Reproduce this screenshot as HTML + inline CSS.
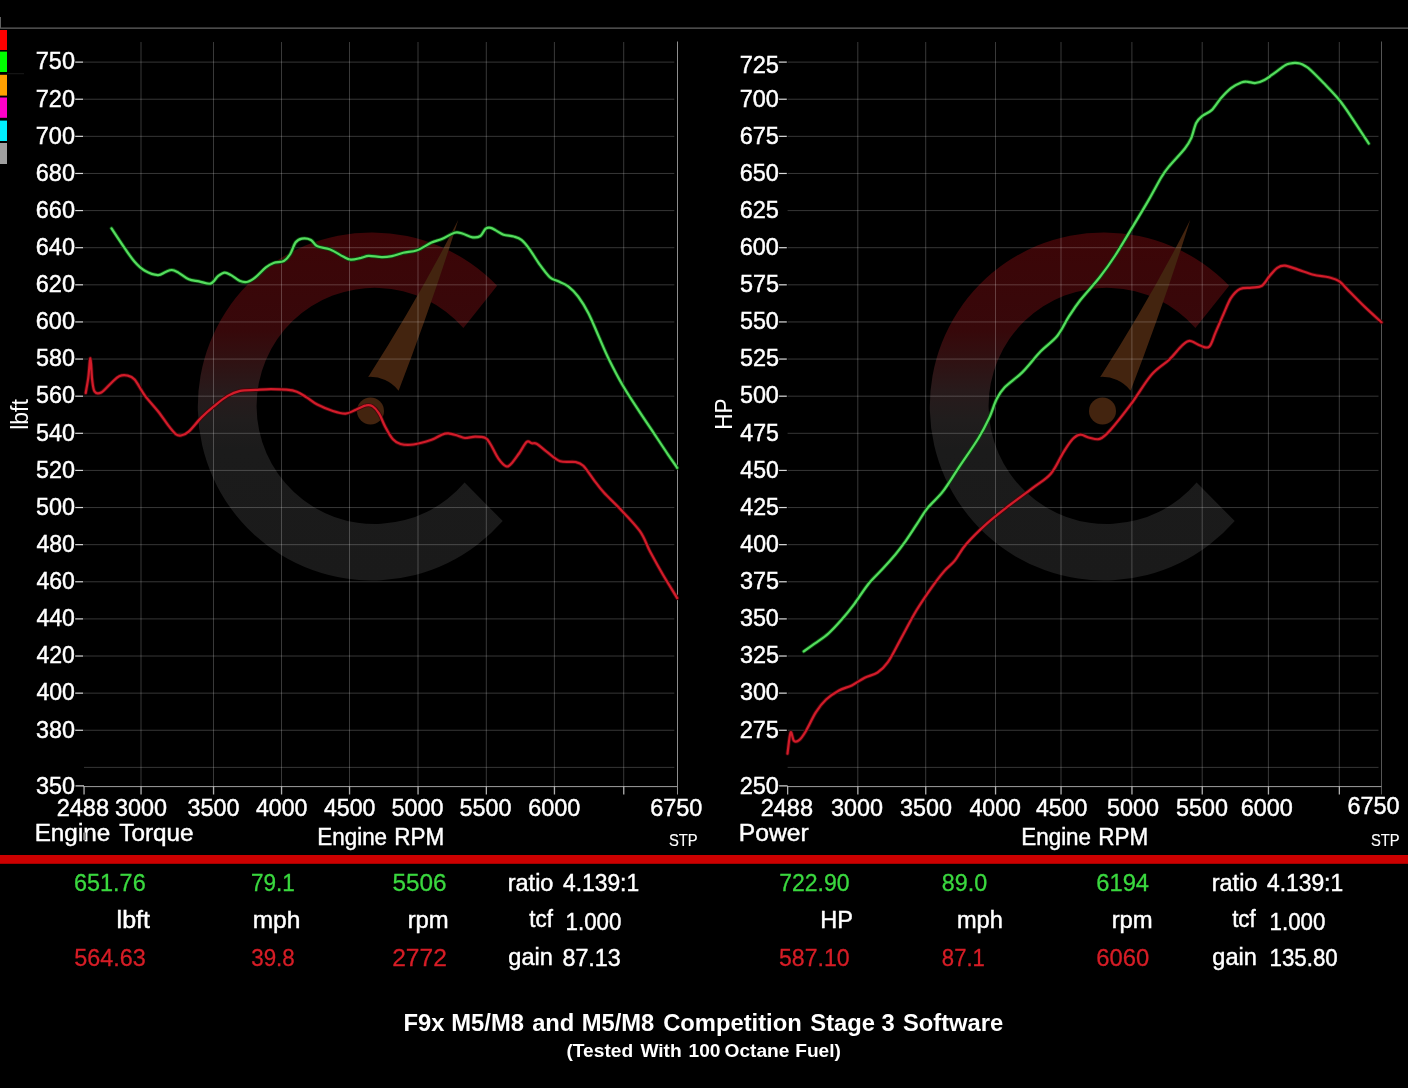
<!DOCTYPE html>
<html><head><meta charset="utf-8"><title>Dyno</title>
<style>
html,body{margin:0;padding:0;background:#000;}
body{width:1408px;height:1088px;overflow:hidden;}
svg{display:block;will-change:transform;font-family:"Liberation Sans",sans-serif;}
</style></head><body>
<svg width="1408" height="1088" viewBox="0 0 1408 1088">
<rect x="0" y="0" width="1408" height="1088" fill="#000"/>
<rect x="0" y="27.6" width="1408" height="1" fill="#7c7c7c"/>
<rect x="0" y="17" width="1" height="11" fill="#606060"/>
<rect x="0" y="30" width="7" height="20.0" fill="#ff0000"/>
<rect x="0" y="51.6" width="7" height="20.4" fill="#00ff00"/>
<rect x="0" y="74.8" width="7" height="20.8" fill="#ffa000"/>
<rect x="0" y="97.5" width="7" height="20.3" fill="#ff00c8"/>
<rect x="0" y="120.6" width="7" height="20.4" fill="#00f0ff"/>
<rect x="0" y="143" width="7" height="21.0" fill="#a0a0a0"/>
<rect x="7" y="73.2" width="17" height="1" fill="#1a1a1a"/>
<defs><linearGradient id="wg1" gradientUnits="userSpaceOnUse" x1="0" y1="234.0" x2="0" y2="581.0"><stop offset="0.000" stop-color="#3c0507"/><stop offset="0.277" stop-color="#37080a"/><stop offset="0.363" stop-color="#301112"/><stop offset="0.450" stop-color="#281a1b"/><stop offset="0.536" stop-color="#201d1d"/><stop offset="0.622" stop-color="#1b1b1b"/><stop offset="1.000" stop-color="#1a1a1a"/></linearGradient></defs>
<path d="M497.1,285.7 A174.0,174.0 0 1 0 502.7,521.1 L464.6,482.5 A118.1,118.1 0 1 1 463.4,328.0 Z" fill="url(#wg1)"/>
<path d="M458.3,219.8 Q418.6,298.3 368.2,376.9 A36,36 0 0 1 398.6,390.7 Q431.6,305.2 458.3,219.8 Z" fill="#43240f"/>
<circle cx="370.5" cy="411.0" r="13.5" fill="#43240f"/>
<defs><linearGradient id="wg2" gradientUnits="userSpaceOnUse" x1="0" y1="234.0" x2="0" y2="581.0"><stop offset="0.000" stop-color="#3c0507"/><stop offset="0.277" stop-color="#37080a"/><stop offset="0.363" stop-color="#301112"/><stop offset="0.450" stop-color="#281a1b"/><stop offset="0.536" stop-color="#201d1d"/><stop offset="0.622" stop-color="#1b1b1b"/><stop offset="1.000" stop-color="#1a1a1a"/></linearGradient></defs>
<path d="M1229.1,285.7 A174.0,174.0 0 1 0 1234.7,521.1 L1196.6,482.5 A118.1,118.1 0 1 1 1195.4,328.0 Z" fill="url(#wg2)"/>
<path d="M1190.3,219.8 Q1150.6,298.3 1100.2,376.9 A36,36 0 0 1 1130.6,390.7 Q1163.6,305.2 1190.3,219.8 Z" fill="#43240f"/>
<circle cx="1102.5" cy="411.0" r="13.5" fill="#43240f"/>
<rect x="84" y="61.60" width="590.3" height="1" fill="rgba(255,255,255,0.21)"/>
<rect x="84" y="98.72" width="590.3" height="1" fill="rgba(255,255,255,0.21)"/>
<rect x="84" y="135.84" width="590.3" height="1" fill="rgba(255,255,255,0.21)"/>
<rect x="84" y="172.96" width="590.3" height="1" fill="rgba(255,255,255,0.21)"/>
<rect x="84" y="210.08" width="590.3" height="1" fill="rgba(255,255,255,0.21)"/>
<rect x="84" y="247.20" width="590.3" height="1" fill="rgba(255,255,255,0.21)"/>
<rect x="84" y="284.32" width="590.3" height="1" fill="rgba(255,255,255,0.21)"/>
<rect x="84" y="321.44" width="590.3" height="1" fill="rgba(255,255,255,0.21)"/>
<rect x="84" y="358.56" width="590.3" height="1" fill="rgba(255,255,255,0.21)"/>
<rect x="84" y="395.68" width="590.3" height="1" fill="rgba(255,255,255,0.21)"/>
<rect x="84" y="432.80" width="590.3" height="1" fill="rgba(255,255,255,0.21)"/>
<rect x="84" y="469.92" width="590.3" height="1" fill="rgba(255,255,255,0.21)"/>
<rect x="84" y="507.04" width="590.3" height="1" fill="rgba(255,255,255,0.21)"/>
<rect x="84" y="544.16" width="590.3" height="1" fill="rgba(255,255,255,0.21)"/>
<rect x="84" y="581.28" width="590.3" height="1" fill="rgba(255,255,255,0.21)"/>
<rect x="84" y="618.40" width="590.3" height="1" fill="rgba(255,255,255,0.21)"/>
<rect x="84" y="655.52" width="590.3" height="1" fill="rgba(255,255,255,0.21)"/>
<rect x="84" y="692.64" width="590.3" height="1" fill="rgba(255,255,255,0.21)"/>
<rect x="84" y="729.76" width="590.3" height="1" fill="rgba(255,255,255,0.21)"/>
<rect x="84" y="766.88" width="590.3" height="1" fill="rgba(255,255,255,0.21)"/>
<rect x="140.50" y="42" width="1" height="744" fill="rgba(255,255,255,0.225)"/>
<rect x="213.00" y="42" width="1" height="744" fill="rgba(255,255,255,0.225)"/>
<rect x="281.00" y="42" width="1" height="744" fill="rgba(255,255,255,0.225)"/>
<rect x="349.00" y="42" width="1" height="744" fill="rgba(255,255,255,0.225)"/>
<rect x="417.50" y="42" width="1" height="744" fill="rgba(255,255,255,0.225)"/>
<rect x="485.80" y="42" width="1" height="744" fill="rgba(255,255,255,0.225)"/>
<rect x="553.90" y="42" width="1" height="744" fill="rgba(255,255,255,0.225)"/>
<rect x="623.20" y="42" width="1" height="744" fill="rgba(255,255,255,0.225)"/>
<rect x="677" y="41.5" width="1" height="753" fill="#8e8e8e"/>
<rect x="84" y="786.0" width="593.6" height="1.1" fill="#909090"/>
<rect x="83.40" y="786" width="1.3" height="8.5" fill="#b0b0b0"/>
<rect x="140.40" y="786" width="1.3" height="8.5" fill="#b0b0b0"/>
<rect x="212.90" y="786" width="1.3" height="8.5" fill="#b0b0b0"/>
<rect x="280.90" y="786" width="1.3" height="8.5" fill="#b0b0b0"/>
<rect x="348.90" y="786" width="1.3" height="8.5" fill="#b0b0b0"/>
<rect x="417.40" y="786" width="1.3" height="8.5" fill="#b0b0b0"/>
<rect x="485.70" y="786" width="1.3" height="8.5" fill="#b0b0b0"/>
<rect x="553.80" y="786" width="1.3" height="8.5" fill="#b0b0b0"/>
<rect x="623.10" y="786" width="1.3" height="8.5" fill="#b0b0b0"/>
<rect x="75.2" y="61.50" width="8" height="1.2" fill="#dadada"/>
<text transform="matrix(0.9922,0,0,1,35.75,68.70)" font-size="23.7" fill="#fff" stroke="#fff" stroke-width="0.45">750</text>
<rect x="75.2" y="98.62" width="8" height="1.2" fill="#dadada"/>
<text transform="matrix(0.9922,0,0,1,35.75,106.52)" font-size="23.7" fill="#fff" stroke="#fff" stroke-width="0.45">720</text>
<rect x="75.2" y="135.74" width="8" height="1.2" fill="#dadada"/>
<text transform="matrix(0.9922,0,0,1,35.75,143.64)" font-size="23.7" fill="#fff" stroke="#fff" stroke-width="0.45">700</text>
<rect x="75.2" y="172.86" width="8" height="1.2" fill="#dadada"/>
<text transform="matrix(0.9922,0,0,1,35.75,180.76)" font-size="23.7" fill="#fff" stroke="#fff" stroke-width="0.45">680</text>
<rect x="75.2" y="209.98" width="8" height="1.2" fill="#dadada"/>
<text transform="matrix(0.9922,0,0,1,35.75,217.88)" font-size="23.7" fill="#fff" stroke="#fff" stroke-width="0.45">660</text>
<rect x="75.2" y="247.10" width="8" height="1.2" fill="#dadada"/>
<text transform="matrix(0.9922,0,0,1,35.75,255.00)" font-size="23.7" fill="#fff" stroke="#fff" stroke-width="0.45">640</text>
<rect x="75.2" y="284.22" width="8" height="1.2" fill="#dadada"/>
<text transform="matrix(0.9922,0,0,1,35.75,292.12)" font-size="23.7" fill="#fff" stroke="#fff" stroke-width="0.45">620</text>
<rect x="75.2" y="321.34" width="8" height="1.2" fill="#dadada"/>
<text transform="matrix(0.9922,0,0,1,35.75,329.24)" font-size="23.7" fill="#fff" stroke="#fff" stroke-width="0.45">600</text>
<rect x="75.2" y="358.46" width="8" height="1.2" fill="#dadada"/>
<text transform="matrix(0.9860,0,0,1,35.99,366.36)" font-size="23.7" fill="#fff" stroke="#fff" stroke-width="0.45">580</text>
<rect x="75.2" y="395.58" width="8" height="1.2" fill="#dadada"/>
<text transform="matrix(0.9860,0,0,1,35.99,403.48)" font-size="23.7" fill="#fff" stroke="#fff" stroke-width="0.45">560</text>
<rect x="75.2" y="432.70" width="8" height="1.2" fill="#dadada"/>
<text transform="matrix(0.9860,0,0,1,35.99,440.60)" font-size="23.7" fill="#fff" stroke="#fff" stroke-width="0.45">540</text>
<rect x="75.2" y="469.82" width="8" height="1.2" fill="#dadada"/>
<text transform="matrix(0.9860,0,0,1,35.99,477.72)" font-size="23.7" fill="#fff" stroke="#fff" stroke-width="0.45">520</text>
<rect x="75.2" y="506.94" width="8" height="1.2" fill="#dadada"/>
<text transform="matrix(0.9860,0,0,1,35.99,514.84)" font-size="23.7" fill="#fff" stroke="#fff" stroke-width="0.45">500</text>
<rect x="75.2" y="544.06" width="8" height="1.2" fill="#dadada"/>
<text transform="matrix(0.9739,0,0,1,36.46,551.96)" font-size="23.7" fill="#fff" stroke="#fff" stroke-width="0.45">480</text>
<rect x="75.2" y="581.18" width="8" height="1.2" fill="#dadada"/>
<text transform="matrix(0.9739,0,0,1,36.46,589.08)" font-size="23.7" fill="#fff" stroke="#fff" stroke-width="0.45">460</text>
<rect x="75.2" y="618.30" width="8" height="1.2" fill="#dadada"/>
<text transform="matrix(0.9739,0,0,1,36.46,626.20)" font-size="23.7" fill="#fff" stroke="#fff" stroke-width="0.45">440</text>
<rect x="75.2" y="655.42" width="8" height="1.2" fill="#dadada"/>
<text transform="matrix(0.9739,0,0,1,36.46,663.32)" font-size="23.7" fill="#fff" stroke="#fff" stroke-width="0.45">420</text>
<rect x="75.2" y="692.54" width="8" height="1.2" fill="#dadada"/>
<text transform="matrix(0.9739,0,0,1,36.46,700.44)" font-size="23.7" fill="#fff" stroke="#fff" stroke-width="0.45">400</text>
<rect x="75.2" y="729.66" width="8" height="1.2" fill="#dadada"/>
<text transform="matrix(0.9860,0,0,1,35.99,737.56)" font-size="23.7" fill="#fff" stroke="#fff" stroke-width="0.45">380</text>
<text transform="matrix(0.9860,0,0,1,35.99,793.50)" font-size="23.7" fill="#fff" stroke="#fff" stroke-width="0.45">350</text>
<rect x="75.5" y="785.3" width="8.5" height="1.2" fill="#dadada"/>
<rect x="787.6" y="61.60" width="590.9" height="1" fill="rgba(255,255,255,0.21)"/>
<rect x="787.6" y="98.72" width="590.9" height="1" fill="rgba(255,255,255,0.21)"/>
<rect x="787.6" y="135.84" width="590.9" height="1" fill="rgba(255,255,255,0.21)"/>
<rect x="787.6" y="172.96" width="590.9" height="1" fill="rgba(255,255,255,0.21)"/>
<rect x="787.6" y="210.08" width="590.9" height="1" fill="rgba(255,255,255,0.21)"/>
<rect x="787.6" y="247.20" width="590.9" height="1" fill="rgba(255,255,255,0.21)"/>
<rect x="787.6" y="284.32" width="590.9" height="1" fill="rgba(255,255,255,0.21)"/>
<rect x="787.6" y="321.44" width="590.9" height="1" fill="rgba(255,255,255,0.21)"/>
<rect x="787.6" y="358.56" width="590.9" height="1" fill="rgba(255,255,255,0.21)"/>
<rect x="787.6" y="395.68" width="590.9" height="1" fill="rgba(255,255,255,0.21)"/>
<rect x="787.6" y="432.80" width="590.9" height="1" fill="rgba(255,255,255,0.21)"/>
<rect x="787.6" y="469.92" width="590.9" height="1" fill="rgba(255,255,255,0.21)"/>
<rect x="787.6" y="507.04" width="590.9" height="1" fill="rgba(255,255,255,0.21)"/>
<rect x="787.6" y="544.16" width="590.9" height="1" fill="rgba(255,255,255,0.21)"/>
<rect x="787.6" y="581.28" width="590.9" height="1" fill="rgba(255,255,255,0.21)"/>
<rect x="787.6" y="618.40" width="590.9" height="1" fill="rgba(255,255,255,0.21)"/>
<rect x="787.6" y="655.52" width="590.9" height="1" fill="rgba(255,255,255,0.21)"/>
<rect x="787.6" y="692.64" width="590.9" height="1" fill="rgba(255,255,255,0.21)"/>
<rect x="787.6" y="729.76" width="590.9" height="1" fill="rgba(255,255,255,0.21)"/>
<rect x="787.6" y="766.88" width="590.9" height="1" fill="rgba(255,255,255,0.21)"/>
<rect x="857.30" y="42" width="1" height="744" fill="rgba(255,255,255,0.225)"/>
<rect x="925.20" y="42" width="1" height="744" fill="rgba(255,255,255,0.225)"/>
<rect x="995.00" y="42" width="1" height="744" fill="rgba(255,255,255,0.225)"/>
<rect x="1060.50" y="42" width="1" height="744" fill="rgba(255,255,255,0.225)"/>
<rect x="1131.40" y="42" width="1" height="744" fill="rgba(255,255,255,0.225)"/>
<rect x="1201.70" y="42" width="1" height="744" fill="rgba(255,255,255,0.225)"/>
<rect x="1267.90" y="42" width="1" height="744" fill="rgba(255,255,255,0.225)"/>
<rect x="1338.80" y="42" width="1" height="744" fill="rgba(255,255,255,0.225)"/>
<rect x="1381" y="41.5" width="1" height="753" fill="#555555"/>
<rect x="787.6" y="786.0" width="593.9" height="1.1" fill="#909090"/>
<rect x="787.00" y="786" width="1.3" height="8.5" fill="#b0b0b0"/>
<rect x="857.20" y="786" width="1.3" height="8.5" fill="#b0b0b0"/>
<rect x="925.10" y="786" width="1.3" height="8.5" fill="#b0b0b0"/>
<rect x="994.90" y="786" width="1.3" height="8.5" fill="#b0b0b0"/>
<rect x="1060.40" y="786" width="1.3" height="8.5" fill="#b0b0b0"/>
<rect x="1131.30" y="786" width="1.3" height="8.5" fill="#b0b0b0"/>
<rect x="1201.60" y="786" width="1.3" height="8.5" fill="#b0b0b0"/>
<rect x="1267.80" y="786" width="1.3" height="8.5" fill="#b0b0b0"/>
<rect x="1338.70" y="786" width="1.3" height="8.5" fill="#b0b0b0"/>
<rect x="778.8000000000001" y="61.50" width="8" height="1.2" fill="#dadada"/>
<text transform="matrix(0.9953,0,0,1,739.64,72.70)" font-size="23.7" fill="#fff" stroke="#fff" stroke-width="0.45">725</text>
<rect x="778.8000000000001" y="98.62" width="8" height="1.2" fill="#dadada"/>
<text transform="matrix(0.9922,0,0,1,739.65,106.52)" font-size="23.7" fill="#fff" stroke="#fff" stroke-width="0.45">700</text>
<rect x="778.8000000000001" y="135.74" width="8" height="1.2" fill="#dadada"/>
<text transform="matrix(0.9953,0,0,1,739.64,143.64)" font-size="23.7" fill="#fff" stroke="#fff" stroke-width="0.45">675</text>
<rect x="778.8000000000001" y="172.86" width="8" height="1.2" fill="#dadada"/>
<text transform="matrix(0.9922,0,0,1,739.65,180.76)" font-size="23.7" fill="#fff" stroke="#fff" stroke-width="0.45">650</text>
<text transform="matrix(0.9953,0,0,1,739.64,217.88)" font-size="23.7" fill="#fff" stroke="#fff" stroke-width="0.45">625</text>
<rect x="778.8000000000001" y="247.10" width="8" height="1.2" fill="#dadada"/>
<text transform="matrix(0.9922,0,0,1,739.65,255.00)" font-size="23.7" fill="#fff" stroke="#fff" stroke-width="0.45">600</text>
<rect x="778.8000000000001" y="284.22" width="8" height="1.2" fill="#dadada"/>
<text transform="matrix(0.9891,0,0,1,739.88,292.12)" font-size="23.7" fill="#fff" stroke="#fff" stroke-width="0.45">575</text>
<rect x="778.8000000000001" y="321.34" width="8" height="1.2" fill="#dadada"/>
<text transform="matrix(0.9860,0,0,1,739.89,329.24)" font-size="23.7" fill="#fff" stroke="#fff" stroke-width="0.45">550</text>
<rect x="778.8000000000001" y="358.46" width="8" height="1.2" fill="#dadada"/>
<text transform="matrix(0.9891,0,0,1,739.88,366.36)" font-size="23.7" fill="#fff" stroke="#fff" stroke-width="0.45">525</text>
<rect x="778.8000000000001" y="395.58" width="8" height="1.2" fill="#dadada"/>
<text transform="matrix(0.9860,0,0,1,739.89,403.48)" font-size="23.7" fill="#fff" stroke="#fff" stroke-width="0.45">500</text>
<text transform="matrix(0.9769,0,0,1,740.36,440.60)" font-size="23.7" fill="#fff" stroke="#fff" stroke-width="0.45">475</text>
<rect x="778.8000000000001" y="469.82" width="8" height="1.2" fill="#dadada"/>
<text transform="matrix(0.9739,0,0,1,740.36,477.72)" font-size="23.7" fill="#fff" stroke="#fff" stroke-width="0.45">450</text>
<rect x="778.8000000000001" y="506.94" width="8" height="1.2" fill="#dadada"/>
<text transform="matrix(0.9769,0,0,1,740.36,514.84)" font-size="23.7" fill="#fff" stroke="#fff" stroke-width="0.45">425</text>
<rect x="778.8000000000001" y="544.06" width="8" height="1.2" fill="#dadada"/>
<text transform="matrix(0.9739,0,0,1,740.36,551.96)" font-size="23.7" fill="#fff" stroke="#fff" stroke-width="0.45">400</text>
<rect x="778.8000000000001" y="581.18" width="8" height="1.2" fill="#dadada"/>
<text transform="matrix(0.9891,0,0,1,739.88,589.08)" font-size="23.7" fill="#fff" stroke="#fff" stroke-width="0.45">375</text>
<rect x="778.8000000000001" y="618.30" width="8" height="1.2" fill="#dadada"/>
<text transform="matrix(0.9860,0,0,1,739.89,626.20)" font-size="23.7" fill="#fff" stroke="#fff" stroke-width="0.45">350</text>
<rect x="778.8000000000001" y="655.42" width="8" height="1.2" fill="#dadada"/>
<text transform="matrix(0.9891,0,0,1,739.88,663.32)" font-size="23.7" fill="#fff" stroke="#fff" stroke-width="0.45">325</text>
<rect x="778.8000000000001" y="692.54" width="8" height="1.2" fill="#dadada"/>
<text transform="matrix(0.9860,0,0,1,739.89,700.44)" font-size="23.7" fill="#fff" stroke="#fff" stroke-width="0.45">300</text>
<rect x="778.8000000000001" y="729.66" width="8" height="1.2" fill="#dadada"/>
<text transform="matrix(0.9953,0,0,1,739.64,737.56)" font-size="23.7" fill="#fff" stroke="#fff" stroke-width="0.45">275</text>
<text transform="matrix(0.9922,0,0,1,739.65,793.50)" font-size="23.7" fill="#fff" stroke="#fff" stroke-width="0.45">250</text>
<rect x="779.1" y="785.3" width="8.5" height="1.2" fill="#dadada"/>
<text transform="matrix(0.9932,0,0,1,56.70,815.80)" font-size="23.7" fill="#fff" stroke="#fff" stroke-width="0.45">2488</text>
<text transform="matrix(0.9863,0,0,1,114.94,815.80)" font-size="23.7" fill="#fff" stroke="#fff" stroke-width="0.45">3000</text>
<text transform="matrix(0.9863,0,0,1,187.44,815.80)" font-size="23.7" fill="#fff" stroke="#fff" stroke-width="0.45">3500</text>
<text transform="matrix(0.9773,0,0,1,255.91,815.80)" font-size="23.7" fill="#fff" stroke="#fff" stroke-width="0.45">4000</text>
<text transform="matrix(0.9773,0,0,1,323.91,815.80)" font-size="23.7" fill="#fff" stroke="#fff" stroke-width="0.45">4500</text>
<text transform="matrix(0.9863,0,0,1,391.44,815.80)" font-size="23.7" fill="#fff" stroke="#fff" stroke-width="0.45">5000</text>
<text transform="matrix(0.9863,0,0,1,459.44,815.80)" font-size="23.7" fill="#fff" stroke="#fff" stroke-width="0.45">5500</text>
<text transform="matrix(0.9909,0,0,1,528.20,815.80)" font-size="23.7" fill="#fff" stroke="#fff" stroke-width="0.45">6000</text>
<text transform="matrix(0.9909,0,0,1,650.20,815.80)" font-size="23.7" fill="#fff" stroke="#fff" stroke-width="0.45">6750</text>
<text transform="matrix(0.9932,0,0,1,760.70,815.80)" font-size="23.7" fill="#fff" stroke="#fff" stroke-width="0.45">2488</text>
<text transform="matrix(0.9863,0,0,1,830.94,815.80)" font-size="23.7" fill="#fff" stroke="#fff" stroke-width="0.45">3000</text>
<text transform="matrix(0.9863,0,0,1,899.94,815.80)" font-size="23.7" fill="#fff" stroke="#fff" stroke-width="0.45">3500</text>
<text transform="matrix(0.9773,0,0,1,969.41,815.80)" font-size="23.7" fill="#fff" stroke="#fff" stroke-width="0.45">4000</text>
<text transform="matrix(0.9773,0,0,1,1035.91,815.80)" font-size="23.7" fill="#fff" stroke="#fff" stroke-width="0.45">4500</text>
<text transform="matrix(0.9863,0,0,1,1106.94,815.80)" font-size="23.7" fill="#fff" stroke="#fff" stroke-width="0.45">5000</text>
<text transform="matrix(0.9863,0,0,1,1175.94,815.80)" font-size="23.7" fill="#fff" stroke="#fff" stroke-width="0.45">5500</text>
<text transform="matrix(0.9909,0,0,1,1240.70,815.80)" font-size="23.7" fill="#fff" stroke="#fff" stroke-width="0.45">6000</text>
<text transform="matrix(0.9909,0,0,1,1347.45,814.20)" font-size="23.7" fill="#fff" stroke="#fff" stroke-width="0.45">6750</text>
<text transform="matrix(0.9925,0,0,1,0,840.70)" font-size="24.5" fill="#fff" stroke="#fff" stroke-width="0.45"><tspan x="34.92">Engine</tspan> <tspan x="120.17">Torque</tspan></text>
<text transform="matrix(0.9357,0,0,1,0,844.70)" font-size="24" fill="#fff" stroke="#fff" stroke-width="0.45"><tspan x="339.00">Engine</tspan> <tspan x="421.47">RPM</tspan></text>
<text transform="matrix(0.9244,0,0,1,668.90,846.00)" font-size="16" fill="#fff" stroke="#fff" stroke-width="0.15">STP</text>
<text transform="matrix(1.0066,0,0,1,738.75,840.50)" font-size="24.5" fill="#fff" stroke="#fff" stroke-width="0.45">Power</text>
<text transform="matrix(0.9357,0,0,1,0,844.70)" font-size="24" fill="#fff" stroke="#fff" stroke-width="0.45"><tspan x="1091.37">Engine</tspan> <tspan x="1173.84">RPM</tspan></text>
<text transform="matrix(0.9244,0,0,1,1370.90,846.00)" font-size="16" fill="#fff" stroke="#fff" stroke-width="0.15">STP</text>
<rect x="83.3" y="832.5" width="2.8" height="7.5" fill="#8a8a8a"/>
<text transform="translate(19.70,413.80) rotate(-90) translate(-16.00,8.58) scale(0.9590,1)" font-size="24" fill="#fff">lbft</text>
<text transform="translate(723.70,413.80) rotate(-90) translate(-15.95,8.28) scale(0.9396,1)" font-size="24" fill="#fff">HP</text>
<rect x="0" y="855" width="1408" height="8.8" fill="#cc0000"/>
<text transform="matrix(0.9779,0,0,1,73.97,890.80)" font-size="24" fill="#3ad83f" stroke="#3ad83f" stroke-width="0.3">651.76</text>
<text transform="matrix(0.9396,0,0,1,251.01,890.80)" font-size="24" fill="#3ad83f" stroke="#3ad83f" stroke-width="0.3">79.1</text>
<text transform="matrix(1.0139,0,0,1,392.43,890.80)" font-size="24" fill="#3ad83f" stroke="#3ad83f" stroke-width="0.3">5506</text>
<text transform="matrix(0.9807,0,0,1,507.69,890.80)" font-size="24" fill="#fff" stroke="#fff" stroke-width="0.45">ratio</text>
<text transform="matrix(0.9502,0,0,1,563.01,890.80)" font-size="24" fill="#fff" stroke="#fff" stroke-width="0.45">4.139:1</text>
<text transform="matrix(1.0427,0,0,1,116.61,927.50)" font-size="24" fill="#fff" stroke="#fff" stroke-width="0.45">lbft</text>
<text transform="matrix(1.0225,0,0,1,252.63,927.50)" font-size="24" fill="#fff" stroke="#fff" stroke-width="0.45">mph</text>
<text transform="matrix(0.9941,0,0,1,407.67,927.50)" font-size="24" fill="#fff" stroke="#fff" stroke-width="0.45">rpm</text>
<text transform="matrix(0.9303,0,0,1,529.37,926.80)" font-size="24" fill="#fff" stroke="#fff" stroke-width="0.45">tcf</text>
<text transform="matrix(0.9298,0,0,1,565.54,930.00)" font-size="24" fill="#fff" stroke="#fff" stroke-width="0.45">1.000</text>
<text transform="matrix(0.9747,0,0,1,74.21,966.20)" font-size="24" fill="#d61d26" stroke="#d61d26" stroke-width="0.3">564.63</text>
<text transform="matrix(0.9321,0,0,1,251.25,966.20)" font-size="24" fill="#d61d26" stroke="#d61d26" stroke-width="0.3">39.8</text>
<text transform="matrix(1.0234,0,0,1,392.18,966.20)" font-size="24" fill="#d61d26" stroke="#d61d26" stroke-width="0.3">2772</text>
<text transform="matrix(0.9818,0,0,1,508.28,965.30)" font-size="24" fill="#fff" stroke="#fff" stroke-width="0.45">gain</text>
<text transform="matrix(0.9716,0,0,1,562.42,966.20)" font-size="24" fill="#fff" stroke="#fff" stroke-width="0.45">87.13</text>
<text transform="matrix(0.9596,0,0,1,779.19,890.80)" font-size="24" fill="#3ad83f" stroke="#3ad83f" stroke-width="0.3">722.90</text>
<text transform="matrix(0.9720,0,0,1,941.80,890.80)" font-size="24" fill="#3ad83f" stroke="#3ad83f" stroke-width="0.3">89.0</text>
<text transform="matrix(0.9907,0,0,1,1096.21,890.80)" font-size="24" fill="#3ad83f" stroke="#3ad83f" stroke-width="0.3">6194</text>
<text transform="matrix(0.9807,0,0,1,1211.69,890.80)" font-size="24" fill="#fff" stroke="#fff" stroke-width="0.45">ratio</text>
<text transform="matrix(0.9502,0,0,1,1267.01,890.80)" font-size="24" fill="#fff" stroke="#fff" stroke-width="0.45">4.139:1</text>
<text transform="matrix(0.9814,0,0,1,820.34,927.50)" font-size="24" fill="#fff" stroke="#fff" stroke-width="0.45">HP</text>
<text transform="matrix(0.9839,0,0,1,956.89,927.50)" font-size="24" fill="#fff" stroke="#fff" stroke-width="0.45">mph</text>
<text transform="matrix(0.9941,0,0,1,1111.67,927.50)" font-size="24" fill="#fff" stroke="#fff" stroke-width="0.45">rpm</text>
<text transform="matrix(0.9303,0,0,1,1232.17,926.80)" font-size="24" fill="#fff" stroke="#fff" stroke-width="0.45">tcf</text>
<text transform="matrix(0.9298,0,0,1,1269.54,930.00)" font-size="24" fill="#fff" stroke="#fff" stroke-width="0.45">1.000</text>
<text transform="matrix(0.9619,0,0,1,779.02,966.20)" font-size="24" fill="#d61d26" stroke="#d61d26" stroke-width="0.3">587.10</text>
<text transform="matrix(0.9215,0,0,1,941.84,966.20)" font-size="24" fill="#d61d26" stroke="#d61d26" stroke-width="0.3">87.1</text>
<text transform="matrix(0.9930,0,0,1,1096.21,966.20)" font-size="24" fill="#d61d26" stroke="#d61d26" stroke-width="0.3">6060</text>
<text transform="matrix(0.9818,0,0,1,1212.28,965.30)" font-size="24" fill="#fff" stroke="#fff" stroke-width="0.45">gain</text>
<text transform="matrix(0.9298,0,0,1,1269.54,966.20)" font-size="24" fill="#fff" stroke="#fff" stroke-width="0.45">135.80</text>
<text transform="matrix(1.0338,0,0,1,0,1030.80)" font-size="23" fill="#fff" font-weight="bold"><tspan x="390.28">F9x</tspan> <tspan x="436.59">M5/M8</tspan> <tspan x="514.74">and</tspan> <tspan x="562.62">M5/M8</tspan> <tspan x="641.47">Competition</tspan> <tspan x="783.85">Stage</tspan> <tspan x="852.76">3</tspan> <tspan x="873.38">Software</tspan></text>
<text transform="matrix(1.0196,0,0,1,0,1056.90)" font-size="18.8" fill="#fff" font-weight="bold"><tspan x="555.58">(Tested</tspan> <tspan x="628.09">With</tspan> <tspan x="675.34">100</tspan> <tspan x="710.57">Octane</tspan> <tspan x="779.90">Fuel)</tspan></text>
<path d="M85.7,393.0C86.1,390.4 87.5,383.4 88.3,377.6C89.1,371.8 89.8,357.9 90.4,358.3C91.1,358.7 91.5,374.5 92.2,380.1C92.9,385.7 93.2,389.6 94.7,391.7C96.2,393.8 98.4,394.0 101.2,392.5C104.0,391.0 108.5,385.4 111.5,382.7C114.5,380.0 116.6,377.5 119.2,376.3C121.8,375.1 124.3,374.9 126.9,375.5C129.5,376.1 131.6,376.2 134.6,379.6C137.6,383.0 141.0,390.4 144.9,395.6C148.8,400.8 153.9,406.1 157.8,411.0C161.7,415.9 165.1,421.3 168.1,425.2C171.1,429.1 173.7,432.5 175.8,434.2C178.0,435.9 178.8,435.9 181.0,435.5C183.2,435.1 185.3,434.6 188.7,431.6C192.1,428.6 197.2,421.7 201.5,417.4C205.8,413.1 210.1,409.4 214.4,405.9C218.7,402.3 223.0,398.6 227.3,396.1C231.6,393.6 235.4,391.9 240.1,390.9C244.8,389.9 250.4,390.2 255.6,389.9C260.8,389.6 265.9,389.1 271.0,389.1C276.1,389.1 282.2,389.3 286.5,389.7C290.8,390.1 293.4,390.4 296.8,391.7C300.2,393.0 303.6,395.5 307.0,397.6C310.4,399.8 313.0,402.4 317.3,404.6C321.6,406.8 328.1,409.5 332.8,411.0C337.5,412.5 341.8,413.8 345.6,413.6C349.5,413.4 352.5,411.1 355.9,409.7C359.3,408.3 363.4,405.9 366.2,405.4C369.0,404.8 370.5,405.0 372.7,406.4C374.9,407.8 377.0,410.2 379.1,413.6C381.2,417.0 382.8,422.2 385.1,426.5C387.4,430.8 390.3,436.4 392.9,439.3C395.5,442.2 397.2,443.1 400.6,444.0C404.0,444.9 408.4,445.2 413.5,444.5C418.6,443.8 426.8,441.4 431.5,439.8C436.2,438.2 439.0,435.8 441.8,434.7C444.6,433.6 445.6,433.3 448.2,433.4C450.8,433.5 454.4,434.7 457.2,435.5C460.0,436.3 461.9,437.8 464.9,438.0C467.9,438.2 471.8,436.7 475.2,436.7C478.6,436.7 482.9,436.7 485.5,438.0C488.1,439.3 488.6,441.1 490.7,444.5C492.8,447.9 495.8,455.0 498.4,458.6C501.0,462.2 504.0,465.4 506.1,466.3C508.2,467.2 509.1,465.9 511.2,463.8C513.4,461.7 516.4,457.1 519.0,453.5C521.6,449.9 524.6,443.6 526.7,441.9C528.8,440.2 530.1,442.8 531.8,443.2C533.5,443.6 534.4,442.5 537.0,444.0C539.6,445.5 543.4,449.3 547.3,452.2C551.1,455.1 555.4,459.6 560.1,461.2C564.8,462.8 571.7,461.2 575.6,462.0C579.5,462.8 580.3,462.9 583.3,465.8C586.3,468.7 590.2,475.1 593.6,479.6C597.0,484.1 599.6,487.9 603.9,492.6C608.2,497.4 613.3,501.7 619.3,508.1C625.3,514.5 634.8,523.9 639.9,531.2C645.0,538.5 646.3,544.5 650.2,551.8C654.1,559.1 658.6,567.3 663.1,575.0C667.6,582.7 674.9,594.2 677.2,598.1" fill="none" stroke="#45060b" stroke-width="3.9" stroke-linecap="round" stroke-linejoin="round"/>
<path d="M85.7,393.0C86.1,390.4 87.5,383.4 88.3,377.6C89.1,371.8 89.8,357.9 90.4,358.3C91.1,358.7 91.5,374.5 92.2,380.1C92.9,385.7 93.2,389.6 94.7,391.7C96.2,393.8 98.4,394.0 101.2,392.5C104.0,391.0 108.5,385.4 111.5,382.7C114.5,380.0 116.6,377.5 119.2,376.3C121.8,375.1 124.3,374.9 126.9,375.5C129.5,376.1 131.6,376.2 134.6,379.6C137.6,383.0 141.0,390.4 144.9,395.6C148.8,400.8 153.9,406.1 157.8,411.0C161.7,415.9 165.1,421.3 168.1,425.2C171.1,429.1 173.7,432.5 175.8,434.2C178.0,435.9 178.8,435.9 181.0,435.5C183.2,435.1 185.3,434.6 188.7,431.6C192.1,428.6 197.2,421.7 201.5,417.4C205.8,413.1 210.1,409.4 214.4,405.9C218.7,402.3 223.0,398.6 227.3,396.1C231.6,393.6 235.4,391.9 240.1,390.9C244.8,389.9 250.4,390.2 255.6,389.9C260.8,389.6 265.9,389.1 271.0,389.1C276.1,389.1 282.2,389.3 286.5,389.7C290.8,390.1 293.4,390.4 296.8,391.7C300.2,393.0 303.6,395.5 307.0,397.6C310.4,399.8 313.0,402.4 317.3,404.6C321.6,406.8 328.1,409.5 332.8,411.0C337.5,412.5 341.8,413.8 345.6,413.6C349.5,413.4 352.5,411.1 355.9,409.7C359.3,408.3 363.4,405.9 366.2,405.4C369.0,404.8 370.5,405.0 372.7,406.4C374.9,407.8 377.0,410.2 379.1,413.6C381.2,417.0 382.8,422.2 385.1,426.5C387.4,430.8 390.3,436.4 392.9,439.3C395.5,442.2 397.2,443.1 400.6,444.0C404.0,444.9 408.4,445.2 413.5,444.5C418.6,443.8 426.8,441.4 431.5,439.8C436.2,438.2 439.0,435.8 441.8,434.7C444.6,433.6 445.6,433.3 448.2,433.4C450.8,433.5 454.4,434.7 457.2,435.5C460.0,436.3 461.9,437.8 464.9,438.0C467.9,438.2 471.8,436.7 475.2,436.7C478.6,436.7 482.9,436.7 485.5,438.0C488.1,439.3 488.6,441.1 490.7,444.5C492.8,447.9 495.8,455.0 498.4,458.6C501.0,462.2 504.0,465.4 506.1,466.3C508.2,467.2 509.1,465.9 511.2,463.8C513.4,461.7 516.4,457.1 519.0,453.5C521.6,449.9 524.6,443.6 526.7,441.9C528.8,440.2 530.1,442.8 531.8,443.2C533.5,443.6 534.4,442.5 537.0,444.0C539.6,445.5 543.4,449.3 547.3,452.2C551.1,455.1 555.4,459.6 560.1,461.2C564.8,462.8 571.7,461.2 575.6,462.0C579.5,462.8 580.3,462.9 583.3,465.8C586.3,468.7 590.2,475.1 593.6,479.6C597.0,484.1 599.6,487.9 603.9,492.6C608.2,497.4 613.3,501.7 619.3,508.1C625.3,514.5 634.8,523.9 639.9,531.2C645.0,538.5 646.3,544.5 650.2,551.8C654.1,559.1 658.6,567.3 663.1,575.0C667.6,582.7 674.9,594.2 677.2,598.1" fill="none" stroke="#d21c2a" stroke-width="2.2" stroke-linecap="round" stroke-linejoin="round"/>
<path d="M111.5,228.3C113.6,231.5 120.5,242.0 124.3,247.6C128.2,253.2 131.2,257.9 134.6,261.8C138.0,265.7 141.0,268.6 144.9,270.8C148.8,273.0 154.4,274.9 157.8,275.1C161.2,275.3 163.2,272.9 165.5,272.0C167.8,271.1 169.8,269.9 171.9,270.0C174.1,270.1 175.6,271.1 178.4,272.6C181.2,274.2 185.3,277.9 188.7,279.3C192.1,280.8 195.4,280.6 199.0,281.3C202.6,282.0 207.3,284.5 210.5,283.6C213.7,282.7 215.9,277.7 218.3,275.9C220.7,274.1 222.6,272.7 224.7,272.6C226.8,272.5 228.5,273.7 231.1,275.1C233.7,276.5 237.3,280.0 240.1,281.1C242.9,282.2 245.3,282.5 247.9,281.8C250.5,281.1 252.6,279.6 255.6,277.2C258.6,274.8 262.9,269.8 265.9,267.4C268.9,265.0 270.6,264.1 273.6,263.0C276.6,261.9 281.1,262.5 283.9,261.0C286.7,259.5 288.4,257.1 290.3,254.0C292.2,250.9 293.6,245.1 295.5,242.5C297.4,239.9 299.3,239.0 301.9,238.6C304.5,238.2 308.3,238.6 310.9,239.9C313.5,241.2 314.1,244.7 317.3,246.3C320.5,247.9 325.9,247.7 330.2,249.4C334.5,251.1 339.7,254.9 343.1,256.6C346.5,258.3 347.8,259.5 350.8,259.7C353.8,259.9 358.1,258.5 361.1,257.9C364.1,257.2 365.4,255.9 368.8,255.8C372.2,255.7 377.8,257.1 381.7,257.1C385.6,257.2 388.4,256.8 392.0,256.1C395.6,255.4 399.0,253.8 403.2,252.8C407.4,251.8 412.6,251.9 417.3,250.2C422.0,248.5 427.4,244.3 431.5,242.5C435.6,240.7 437.9,240.7 441.8,239.1C445.7,237.5 451.2,233.6 454.6,232.7C458.0,231.8 459.3,232.7 462.3,233.5C465.3,234.3 469.6,236.9 472.6,237.3C475.6,237.7 478.2,237.4 480.4,236.0C482.5,234.6 483.8,230.2 485.5,228.8C487.2,227.4 489.0,227.5 490.7,227.8C492.4,228.1 493.7,229.2 495.8,230.4C497.9,231.6 500.5,233.7 503.5,234.7C506.5,235.7 510.8,235.6 513.8,236.5C516.8,237.4 518.9,237.8 521.5,239.9C524.1,242.0 526.3,244.8 529.3,248.9C532.3,253.0 536.1,259.6 539.5,264.3C542.9,269.0 546.8,274.4 549.8,277.2C552.8,280.0 554.6,279.6 557.6,281.1C560.6,282.6 564.5,283.6 567.9,286.2C571.3,288.8 574.7,292.0 578.1,296.5C581.5,301.0 585.0,306.6 588.4,313.2C591.8,319.8 595.3,328.7 598.7,336.4C602.1,344.1 605.1,351.6 609.0,359.5C612.9,367.4 617.2,375.9 621.9,384.0C626.6,392.1 632.1,400.5 637.3,408.4C642.4,416.3 647.6,423.9 652.8,431.6C657.9,439.3 664.1,448.8 668.2,454.8C672.3,460.8 675.7,465.6 677.2,467.8" fill="none" stroke="#0a4f10" stroke-width="3.9" stroke-linecap="round" stroke-linejoin="round"/>
<path d="M111.5,228.3C113.6,231.5 120.5,242.0 124.3,247.6C128.2,253.2 131.2,257.9 134.6,261.8C138.0,265.7 141.0,268.6 144.9,270.8C148.8,273.0 154.4,274.9 157.8,275.1C161.2,275.3 163.2,272.9 165.5,272.0C167.8,271.1 169.8,269.9 171.9,270.0C174.1,270.1 175.6,271.1 178.4,272.6C181.2,274.2 185.3,277.9 188.7,279.3C192.1,280.8 195.4,280.6 199.0,281.3C202.6,282.0 207.3,284.5 210.5,283.6C213.7,282.7 215.9,277.7 218.3,275.9C220.7,274.1 222.6,272.7 224.7,272.6C226.8,272.5 228.5,273.7 231.1,275.1C233.7,276.5 237.3,280.0 240.1,281.1C242.9,282.2 245.3,282.5 247.9,281.8C250.5,281.1 252.6,279.6 255.6,277.2C258.6,274.8 262.9,269.8 265.9,267.4C268.9,265.0 270.6,264.1 273.6,263.0C276.6,261.9 281.1,262.5 283.9,261.0C286.7,259.5 288.4,257.1 290.3,254.0C292.2,250.9 293.6,245.1 295.5,242.5C297.4,239.9 299.3,239.0 301.9,238.6C304.5,238.2 308.3,238.6 310.9,239.9C313.5,241.2 314.1,244.7 317.3,246.3C320.5,247.9 325.9,247.7 330.2,249.4C334.5,251.1 339.7,254.9 343.1,256.6C346.5,258.3 347.8,259.5 350.8,259.7C353.8,259.9 358.1,258.5 361.1,257.9C364.1,257.2 365.4,255.9 368.8,255.8C372.2,255.7 377.8,257.1 381.7,257.1C385.6,257.2 388.4,256.8 392.0,256.1C395.6,255.4 399.0,253.8 403.2,252.8C407.4,251.8 412.6,251.9 417.3,250.2C422.0,248.5 427.4,244.3 431.5,242.5C435.6,240.7 437.9,240.7 441.8,239.1C445.7,237.5 451.2,233.6 454.6,232.7C458.0,231.8 459.3,232.7 462.3,233.5C465.3,234.3 469.6,236.9 472.6,237.3C475.6,237.7 478.2,237.4 480.4,236.0C482.5,234.6 483.8,230.2 485.5,228.8C487.2,227.4 489.0,227.5 490.7,227.8C492.4,228.1 493.7,229.2 495.8,230.4C497.9,231.6 500.5,233.7 503.5,234.7C506.5,235.7 510.8,235.6 513.8,236.5C516.8,237.4 518.9,237.8 521.5,239.9C524.1,242.0 526.3,244.8 529.3,248.9C532.3,253.0 536.1,259.6 539.5,264.3C542.9,269.0 546.8,274.4 549.8,277.2C552.8,280.0 554.6,279.6 557.6,281.1C560.6,282.6 564.5,283.6 567.9,286.2C571.3,288.8 574.7,292.0 578.1,296.5C581.5,301.0 585.0,306.6 588.4,313.2C591.8,319.8 595.3,328.7 598.7,336.4C602.1,344.1 605.1,351.6 609.0,359.5C612.9,367.4 617.2,375.9 621.9,384.0C626.6,392.1 632.1,400.5 637.3,408.4C642.4,416.3 647.6,423.9 652.8,431.6C657.9,439.3 664.1,448.8 668.2,454.8C672.3,460.8 675.7,465.6 677.2,467.8" fill="none" stroke="#55dc5e" stroke-width="2.2" stroke-linecap="round" stroke-linejoin="round"/>
<path d="M787.5,753.6C788.0,750.1 789.5,734.6 790.6,732.5C791.7,730.4 792.5,739.4 793.9,740.7C795.3,742.0 797.2,741.7 799.1,740.2C801.0,738.7 802.7,736.3 805.5,731.7C808.3,727.1 812.4,717.8 815.8,712.4C819.2,707.0 822.2,703.1 826.1,699.5C830.0,695.9 834.7,692.9 839.0,690.5C843.3,688.1 847.5,687.5 851.8,685.4C856.1,683.3 860.4,679.9 864.7,677.7C869.0,675.6 873.7,675.1 877.6,672.5C881.5,669.9 884.0,667.8 887.9,662.2C891.8,656.6 896.0,647.7 900.7,639.1C905.4,630.5 911.1,619.4 916.2,610.8C921.4,602.2 926.9,594.2 931.6,587.6C936.3,581.0 940.6,575.4 944.5,570.9C948.4,566.4 951.2,565.0 954.8,560.6C958.4,556.2 960.6,550.6 965.9,544.5C971.2,538.4 979.6,530.1 986.5,523.9C993.4,517.7 999.3,513.2 1007.0,507.2C1014.7,501.2 1025.5,493.5 1032.8,487.9C1040.1,482.3 1045.6,479.7 1050.8,473.7C1056.0,467.7 1060.0,457.6 1063.7,451.8C1067.4,446.0 1069.9,441.9 1072.7,439.0C1075.5,436.1 1077.6,434.8 1080.4,434.6C1083.2,434.4 1086.2,437.0 1089.4,437.7C1092.6,438.4 1096.3,440.1 1099.7,438.9C1103.1,437.7 1104.8,436.1 1110.0,430.4C1115.2,424.7 1123.7,413.9 1130.6,404.7C1137.5,395.5 1144.8,382.6 1151.2,375.1C1157.6,367.6 1164.1,364.6 1169.2,359.7C1174.3,354.8 1178.7,348.6 1182.1,345.5C1185.5,342.4 1186.8,340.9 1189.8,340.9C1192.8,340.9 1196.9,344.5 1200.1,345.5C1203.3,346.5 1206.5,348.9 1209.1,346.8C1211.7,344.7 1213.1,338.0 1215.5,332.6C1217.9,327.2 1220.7,320.4 1223.3,314.6C1225.9,308.8 1228.2,302.2 1231.0,297.9C1233.8,293.6 1236.6,290.6 1240.0,288.9C1243.4,287.2 1247.9,288.1 1251.6,287.6C1255.2,287.1 1258.9,287.7 1261.9,285.8C1264.9,283.9 1267.0,279.0 1269.6,276.0C1272.2,273.0 1274.7,269.5 1277.3,267.8C1279.9,266.1 1281.6,265.4 1285.0,265.7C1288.4,266.0 1293.2,268.1 1297.9,269.6C1302.6,271.1 1308.2,273.4 1313.3,274.7C1318.4,276.0 1324.5,276.2 1328.8,277.3C1333.1,278.4 1335.7,278.8 1339.1,281.2C1342.5,283.6 1345.1,287.2 1349.4,291.5C1353.7,295.8 1359.5,301.8 1364.8,306.9C1370.1,312.0 1378.7,319.7 1381.5,322.3" fill="none" stroke="#45060b" stroke-width="3.9" stroke-linecap="round" stroke-linejoin="round"/>
<path d="M787.5,753.6C788.0,750.1 789.5,734.6 790.6,732.5C791.7,730.4 792.5,739.4 793.9,740.7C795.3,742.0 797.2,741.7 799.1,740.2C801.0,738.7 802.7,736.3 805.5,731.7C808.3,727.1 812.4,717.8 815.8,712.4C819.2,707.0 822.2,703.1 826.1,699.5C830.0,695.9 834.7,692.9 839.0,690.5C843.3,688.1 847.5,687.5 851.8,685.4C856.1,683.3 860.4,679.9 864.7,677.7C869.0,675.6 873.7,675.1 877.6,672.5C881.5,669.9 884.0,667.8 887.9,662.2C891.8,656.6 896.0,647.7 900.7,639.1C905.4,630.5 911.1,619.4 916.2,610.8C921.4,602.2 926.9,594.2 931.6,587.6C936.3,581.0 940.6,575.4 944.5,570.9C948.4,566.4 951.2,565.0 954.8,560.6C958.4,556.2 960.6,550.6 965.9,544.5C971.2,538.4 979.6,530.1 986.5,523.9C993.4,517.7 999.3,513.2 1007.0,507.2C1014.7,501.2 1025.5,493.5 1032.8,487.9C1040.1,482.3 1045.6,479.7 1050.8,473.7C1056.0,467.7 1060.0,457.6 1063.7,451.8C1067.4,446.0 1069.9,441.9 1072.7,439.0C1075.5,436.1 1077.6,434.8 1080.4,434.6C1083.2,434.4 1086.2,437.0 1089.4,437.7C1092.6,438.4 1096.3,440.1 1099.7,438.9C1103.1,437.7 1104.8,436.1 1110.0,430.4C1115.2,424.7 1123.7,413.9 1130.6,404.7C1137.5,395.5 1144.8,382.6 1151.2,375.1C1157.6,367.6 1164.1,364.6 1169.2,359.7C1174.3,354.8 1178.7,348.6 1182.1,345.5C1185.5,342.4 1186.8,340.9 1189.8,340.9C1192.8,340.9 1196.9,344.5 1200.1,345.5C1203.3,346.5 1206.5,348.9 1209.1,346.8C1211.7,344.7 1213.1,338.0 1215.5,332.6C1217.9,327.2 1220.7,320.4 1223.3,314.6C1225.9,308.8 1228.2,302.2 1231.0,297.9C1233.8,293.6 1236.6,290.6 1240.0,288.9C1243.4,287.2 1247.9,288.1 1251.6,287.6C1255.2,287.1 1258.9,287.7 1261.9,285.8C1264.9,283.9 1267.0,279.0 1269.6,276.0C1272.2,273.0 1274.7,269.5 1277.3,267.8C1279.9,266.1 1281.6,265.4 1285.0,265.7C1288.4,266.0 1293.2,268.1 1297.9,269.6C1302.6,271.1 1308.2,273.4 1313.3,274.7C1318.4,276.0 1324.5,276.2 1328.8,277.3C1333.1,278.4 1335.7,278.8 1339.1,281.2C1342.5,283.6 1345.1,287.2 1349.4,291.5C1353.7,295.8 1359.5,301.8 1364.8,306.9C1370.1,312.0 1378.7,319.7 1381.5,322.3" fill="none" stroke="#d21c2a" stroke-width="2.2" stroke-linecap="round" stroke-linejoin="round"/>
<path d="M803.7,651.4C805.7,650.0 811.6,645.9 815.8,642.9C820.0,639.9 824.4,637.1 828.7,633.2C833.0,629.4 837.2,624.7 841.5,619.8C845.8,614.9 849.9,609.8 854.4,603.8C858.9,597.8 863.9,589.5 868.6,583.7C873.3,577.9 878.2,573.7 882.7,568.8C887.2,563.9 892.0,558.5 895.6,554.2C899.2,549.9 900.5,548.2 904.1,543.2C907.7,538.2 913.1,529.7 917.0,523.9C920.9,518.1 923.0,513.8 927.3,508.4C931.6,503.0 937.6,498.3 942.7,491.7C947.8,485.1 952.1,477.6 958.1,468.6C964.1,459.6 973.6,446.1 978.7,437.7C983.9,429.3 986.0,424.8 989.0,418.4C992.0,412.0 994.1,404.2 996.7,399.1C999.3,394.0 1000.2,392.0 1004.5,387.5C1008.8,383.0 1016.5,378.1 1022.5,372.1C1028.5,366.1 1034.7,357.5 1040.5,351.5C1046.3,345.5 1052.5,341.8 1057.2,336.0C1061.9,330.2 1064.9,322.7 1068.8,316.7C1072.7,310.7 1075.2,306.6 1080.4,300.0C1085.6,293.4 1093.9,284.7 1099.7,277.3C1105.5,269.9 1109.6,264.1 1115.2,255.5C1120.8,246.9 1127.6,235.1 1133.2,225.9C1138.8,216.7 1143.9,208.2 1148.6,200.1C1153.3,191.9 1158.1,182.7 1161.5,177.0C1164.9,171.3 1165.3,170.9 1169.2,166.2C1173.1,161.5 1181.1,153.3 1184.7,148.7C1188.3,144.1 1189.2,142.7 1191.1,138.4C1193.0,134.1 1194.3,126.7 1196.2,122.9C1198.1,119.1 1200.1,117.8 1202.7,115.7C1205.3,113.6 1208.7,113.0 1211.7,110.1C1214.7,107.2 1217.5,102.2 1220.7,98.5C1223.9,94.8 1227.6,90.9 1231.0,88.2C1234.4,85.5 1238.5,83.6 1241.3,82.5C1244.1,81.4 1245.3,81.7 1247.7,81.8C1250.1,81.9 1252.6,83.3 1255.4,83.0C1258.2,82.7 1261.2,81.7 1264.4,80.0C1267.6,78.3 1271.3,75.2 1274.7,72.8C1278.1,70.4 1282.5,67.0 1285.0,65.4C1287.5,63.9 1288.3,63.9 1290.0,63.5C1291.7,63.1 1293.3,62.8 1295.0,62.8C1296.7,62.8 1298.2,62.9 1300.0,63.5C1301.8,64.1 1303.7,65.1 1305.5,66.2C1307.3,67.3 1307.8,67.4 1310.8,70.2C1313.8,73.0 1318.9,78.1 1323.6,83.0C1328.3,87.9 1334.4,94.0 1339.1,99.8C1343.8,105.6 1347.0,110.5 1351.9,117.8C1356.8,125.1 1365.9,139.2 1368.7,143.5" fill="none" stroke="#0a4f10" stroke-width="3.9" stroke-linecap="round" stroke-linejoin="round"/>
<path d="M803.7,651.4C805.7,650.0 811.6,645.9 815.8,642.9C820.0,639.9 824.4,637.1 828.7,633.2C833.0,629.4 837.2,624.7 841.5,619.8C845.8,614.9 849.9,609.8 854.4,603.8C858.9,597.8 863.9,589.5 868.6,583.7C873.3,577.9 878.2,573.7 882.7,568.8C887.2,563.9 892.0,558.5 895.6,554.2C899.2,549.9 900.5,548.2 904.1,543.2C907.7,538.2 913.1,529.7 917.0,523.9C920.9,518.1 923.0,513.8 927.3,508.4C931.6,503.0 937.6,498.3 942.7,491.7C947.8,485.1 952.1,477.6 958.1,468.6C964.1,459.6 973.6,446.1 978.7,437.7C983.9,429.3 986.0,424.8 989.0,418.4C992.0,412.0 994.1,404.2 996.7,399.1C999.3,394.0 1000.2,392.0 1004.5,387.5C1008.8,383.0 1016.5,378.1 1022.5,372.1C1028.5,366.1 1034.7,357.5 1040.5,351.5C1046.3,345.5 1052.5,341.8 1057.2,336.0C1061.9,330.2 1064.9,322.7 1068.8,316.7C1072.7,310.7 1075.2,306.6 1080.4,300.0C1085.6,293.4 1093.9,284.7 1099.7,277.3C1105.5,269.9 1109.6,264.1 1115.2,255.5C1120.8,246.9 1127.6,235.1 1133.2,225.9C1138.8,216.7 1143.9,208.2 1148.6,200.1C1153.3,191.9 1158.1,182.7 1161.5,177.0C1164.9,171.3 1165.3,170.9 1169.2,166.2C1173.1,161.5 1181.1,153.3 1184.7,148.7C1188.3,144.1 1189.2,142.7 1191.1,138.4C1193.0,134.1 1194.3,126.7 1196.2,122.9C1198.1,119.1 1200.1,117.8 1202.7,115.7C1205.3,113.6 1208.7,113.0 1211.7,110.1C1214.7,107.2 1217.5,102.2 1220.7,98.5C1223.9,94.8 1227.6,90.9 1231.0,88.2C1234.4,85.5 1238.5,83.6 1241.3,82.5C1244.1,81.4 1245.3,81.7 1247.7,81.8C1250.1,81.9 1252.6,83.3 1255.4,83.0C1258.2,82.7 1261.2,81.7 1264.4,80.0C1267.6,78.3 1271.3,75.2 1274.7,72.8C1278.1,70.4 1282.5,67.0 1285.0,65.4C1287.5,63.9 1288.3,63.9 1290.0,63.5C1291.7,63.1 1293.3,62.8 1295.0,62.8C1296.7,62.8 1298.2,62.9 1300.0,63.5C1301.8,64.1 1303.7,65.1 1305.5,66.2C1307.3,67.3 1307.8,67.4 1310.8,70.2C1313.8,73.0 1318.9,78.1 1323.6,83.0C1328.3,87.9 1334.4,94.0 1339.1,99.8C1343.8,105.6 1347.0,110.5 1351.9,117.8C1356.8,125.1 1365.9,139.2 1368.7,143.5" fill="none" stroke="#55dc5e" stroke-width="2.2" stroke-linecap="round" stroke-linejoin="round"/>
</svg>
</body></html>
